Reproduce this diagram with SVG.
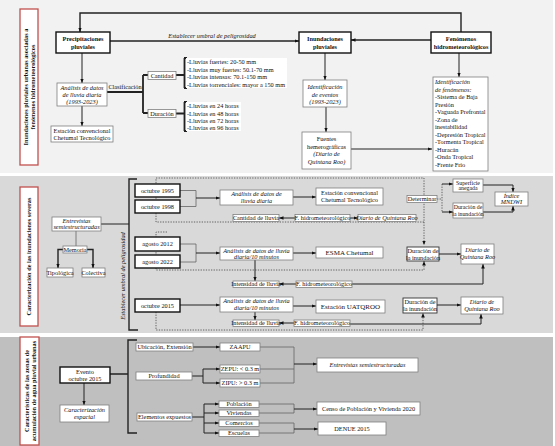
<svg xmlns="http://www.w3.org/2000/svg" width="555" height="446" viewBox="0 0 555 446">
<style>
text{font-family:"Liberation Serif","Times New Roman",serif;font-size:6.3px;fill:#111}
.m{text-anchor:middle}
.i{font-style:italic}
.b{font-weight:bold}
.n{fill:#fff;stroke:#7f7f7f;stroke-width:.8}
.k{fill:#fff;stroke:#111;stroke-width:1.4}
.dk{fill:#fff;stroke:#333;stroke-width:.9}
.w{fill:#fff;stroke:none}
.r{fill:#fff;stroke:#c0504d;stroke-width:1.3}
#connectors path{fill:none;stroke:#222;stroke-width:1}
#connectors path.th{stroke-width:1.8}
#connectors path.t2{stroke-width:1.4}
#connectors path.d{stroke:#444;stroke-width:.8;stroke-dasharray:1.3 1.3}
#connectors path.g{stroke:#666;stroke-width:.8}
</style>
<defs>
<marker id="a" viewBox="0 0 8 8" refX="8" refY="4" markerWidth="4.5" markerHeight="4.5" markerUnits="userSpaceOnUse" orient="auto"><path d="M0,0.8L8,4L0,7.2z" fill="#111"/></marker>
</defs>
<rect width="555" height="446" fill="#fff"/>
<rect x="0" y="0" width="553" height="173" fill="#f2f2f2"/>
<rect x="0" y="176" width="553" height="157" fill="#d9d9d9"/>
<rect x="0" y="337" width="553" height="109" fill="#bfbfbf"/>

<g id="connectors">
<!-- panel 1 -->
<path class="t2" d="M461,32V13H80V32" marker-end="url(#a)"/>
<path class="t2" d="M110,41H299" marker-end="url(#a)"/>
<path class="t2" d="M431,40H351" marker-end="url(#a)"/>
<path d="M82,53V83" marker-end="url(#a)"/>
<path d="M82,106V126" marker-end="url(#a)"/>
<path class="th" d="M107,92H143M143,75V113M143,75H148M143,113H148"/>
<path class="th" d="M176,75H184M184.5,58V88M184,58H187M184,88H187"/>
<path class="th" d="M176,113.5H184M184.5,102V131M184,102H187M184,131H187"/>
<path d="M325,53V80" marker-end="url(#a)"/>
<path d="M326,107V132" marker-end="url(#a)"/>
<path d="M351,149H432" marker-end="url(#a)"/>
<path d="M459,53V77" marker-end="url(#a)"/>
<!-- panel 2 -->
<path class="t2" d="M137,179H129V330H138"/>
<path d="M101,224H129"/>
<path class="g" d="M76,231V246"/>
<path class="t2" d="M63,249.5H58V268" marker-end="url(#a)"/>
<path class="t2" d="M87,249.5H93V268" marker-end="url(#a)"/>
<path class="d" d="M424,222H156V178H424V245" marker-end="url(#a)"/>
<path class="d" d="M167,232H156V270H424V261" marker-end="url(#a)"/>
<path class="d" d="M156,312V330H423V313" marker-end="url(#a)"/>
<path class="d" d="M437,199H442M442,184V212"/>
<path d="M442,184H453" marker-end="url(#a)"/>
<path d="M442,212H453" marker-end="url(#a)"/>
<path d="M483,185H513V192" marker-end="url(#a)"/>
<path d="M483,212H513V206" marker-end="url(#a)"/>
<path class="g" d="M180,190.5H196V206.5H180"/>
<path d="M196,198H220" marker-end="url(#a)"/>
<path d="M293,197H316" marker-end="url(#a)"/>
<path d="M295,218H279" marker-end="url(#a)"/>
<path d="M350,218H358" marker-end="url(#a)"/>
<path class="g" d="M180,244H196V262H180"/>
<path d="M196,253H220" marker-end="url(#a)"/>
<path d="M293,253H316" marker-end="url(#a)"/>
<path d="M255,260V281" marker-end="url(#a)"/>
<path d="M296,284H279" marker-end="url(#a)"/>
<path d="M352,284H483V264" marker-end="url(#a)"/>
<path d="M439,254H461" marker-end="url(#a)"/>
<path d="M180,305H220" marker-end="url(#a)"/>
<path d="M293,306H316" marker-end="url(#a)"/>
<path d="M255,312V320" marker-end="url(#a)"/>
<path d="M294,323H279" marker-end="url(#a)"/>
<path d="M350,324H481V314" marker-end="url(#a)"/>
<path d="M437,305H461" marker-end="url(#a)"/>
<!-- panel 3 -->
<path d="M84,383V405" marker-end="url(#a)"/>
<path class="t2" d="M110,374H128M137,340H128V433H137"/>
<path d="M193,347H220" marker-end="url(#a)"/>
<path d="M192,376H203M203,369V383"/>
<path d="M203,369H220" marker-end="url(#a)"/>
<path d="M203,383H220" marker-end="url(#a)"/>
<path d="M192,417H204M204,404V433"/>
<path d="M204,404H219" marker-end="url(#a)"/>
<path d="M204,413H219" marker-end="url(#a)"/>
<path d="M204,423H219" marker-end="url(#a)"/>
<path d="M204,433H219" marker-end="url(#a)"/>
<path class="g" d="M260,347H294M260,369H294M260,383H294M294,347V383"/>
<path d="M294,364H317" marker-end="url(#a)"/>
<path class="g" d="M259,404H294M259,413H294M294,404V413"/>
<path d="M294,409H317" marker-end="url(#a)"/>
<path class="g" d="M259,423H294M259,433H294M294,423V433"/>
<path d="M294,429H318" marker-end="url(#a)"/>
</g>

<text class="m i" x="212" y="38">Establecer umbral de peligrosidad</text>
<text class="m" x="125" y="89">Clasificación</text>

<g id="label1"><rect class="r" x="20" y="9" width="18" height="156"/>
<text class="m b" transform="translate(29,87) rotate(-90)"><tspan x="0" y="-1">Inundaciones pluviales urbanas asociadas a</tspan><tspan x="0" y="6">fenómenos hidrometeorológicos</tspan></text></g>
<g id="precipitaciones"><rect class="k" x="56" y="32" width="54" height="21"/><text class="m b"><tspan x="83" y="41">Precipitaciones</tspan><tspan x="83" y="48.5">pluviales</tspan></text></g>
<g id="inundaciones"><rect class="k" x="299" y="32" width="52" height="21"/><text class="m b"><tspan x="325" y="41">Inundaciones</tspan><tspan x="325" y="48.5">pluviales</tspan></text></g>
<g id="fenomenos"><rect class="k" x="431" y="32" width="60" height="21"/><text class="m b"><tspan x="461" y="41">Fenómenos</tspan><tspan x="461" y="48.5">hidrometeorológicos</tspan></text></g>
<g id="analisis0"><rect class="n" x="57" y="83" width="50" height="23"/><text class="m i"><tspan x="82" y="89.7">Análisis de datos</tspan><tspan x="82" y="96.7">de lluvia diaria</tspan><tspan x="82" y="103.7">(1993-2023)</tspan></text></g>
<g id="estacion0"><rect class="n" x="51" y="126" width="62" height="16"/><text class="m"><tspan x="82" y="132.5">Estación convencional</tspan><tspan x="82" y="139.5">Chetumal Tecnológico</tspan></text></g>
<g id="cantidad"><rect class="n" x="148" y="71.5" width="28" height="8"/><text class="m" x="162" y="77.6">Cantidad</text></g>
<g id="duracion"><rect class="n" x="148" y="109.5" width="28" height="8"/><text class="m" x="162" y="115.6">Duración</text></g>
<g id="listaCantidad"><rect class="w" x="186" y="58" width="101" height="30"/><text><tspan x="187" y="64.2">-Lluvias fuertes: 20-50 mm</tspan><tspan x="187" y="71.8">-Lluvias muy fuertes: 50.1-70 mm</tspan><tspan x="187" y="79.2">-Lluvias intensas: 70.1-150 mm</tspan><tspan x="187" y="86.8">-Lluvias torrenciales: mayor a 150 mm</tspan></text></g>
<g id="listaDuracion"><rect class="w" x="186" y="102" width="55" height="29"/><text><tspan x="187" y="108.2">-Lluvias en 24 horas</tspan><tspan x="187" y="115.5">-Lluvias en 48 horas</tspan><tspan x="187" y="122.8">-Lluvias en 72 horas</tspan><tspan x="187" y="130">-Lluvias en 96 horas</tspan></text></g>
<g id="identEventos"><rect class="n" x="303" y="80" width="44" height="27"/><text class="m i"><tspan x="325" y="89">Identificación</tspan><tspan x="325" y="96.5">de eventos</tspan><tspan x="325" y="104">(1993-2023)</tspan></text></g>
<g id="fuentes"><rect class="n" x="302" y="132" width="49" height="37"/><text class="m"><tspan x="326.5" y="141">Fuentes</tspan><tspan x="326.5" y="148.7">hemerográficas</tspan><tspan class="i" x="326.5" y="156.3">(Diario de</tspan><tspan class="i" x="326.5" y="164">Quintana Roo)</tspan></text></g>
<g id="identFenomenos"><rect class="n" x="433" y="77" width="55" height="94"/><text><tspan class="i" x="435" y="84">Identificación</tspan><tspan class="i" x="435" y="91.5">de fenómenos:</tspan><tspan x="435" y="99">-Sistema de Baja</tspan><tspan x="435" y="106.5">Presión</tspan><tspan x="435" y="114">-Vaguada Prefrontal</tspan><tspan x="435" y="121.5">-Zona de</tspan><tspan x="435" y="129">inestabilidad</tspan><tspan x="435" y="136.5">-Depresión Tropical</tspan><tspan x="435" y="144">-Tormenta Tropical</tspan><tspan x="435" y="151.5">-Huracán</tspan><tspan x="435" y="159">-Onda Tropical</tspan><tspan x="435" y="166.5">-Frente Frío</tspan></text></g>

<g id="label2"><rect class="r" x="20" y="187" width="18" height="139"/>
<text class="m b" transform="translate(29,256.5) rotate(-90)" x="0" y="2.2">Caracterización de las inundaciones severas</text></g>
<text class="m i" transform="translate(125,276) rotate(-90)" x="0" y="0">Establecer umbral de peligrosidad</text>
<g id="entrevistas1"><rect class="n" x="52" y="217" width="49" height="14"/><text class="m i"><tspan x="76.5" y="222.6">Entrevistas</tspan><tspan x="76.5" y="229">semiestructuradas</tspan></text></g>
<g id="memoria"><rect class="n" x="63" y="246" width="24" height="7"/><text class="m" x="75" y="251.6">Memoria</text></g>
<g id="tipologica"><rect class="n" x="47" y="268" width="26" height="9"/><text class="m" x="60" y="275">Tipológica</text></g>
<g id="colectiva"><rect class="n" x="82" y="268" width="23" height="9"/><text class="m" x="93.5" y="275">Colectiva</text></g>
<g id="oct1995"><rect class="k" x="135" y="184" width="45" height="13"/><text class="m" x="157.5" y="192.6">octubre 1995</text></g>
<g id="oct1998"><rect class="k" x="135" y="200" width="45" height="13"/><text class="m" x="157.5" y="208.6">octubre 1998</text></g>
<g id="ago2012"><rect class="k" x="135" y="237" width="45" height="14"/><text class="m" x="157.5" y="246.2">agosto 2012</text></g>
<g id="ago2022"><rect class="k" x="135" y="255" width="45" height="13"/><text class="m" x="157.5" y="263.6">agosto 2022</text></g>
<g id="oct2015"><rect class="k" x="135" y="299" width="45" height="13"/><text class="m" x="157.5" y="307.6">octubre 2015</text></g>
<g id="analisis1"><rect class="n" x="220" y="190" width="73" height="15"/><text class="m i"><tspan x="256.5" y="196.2">Análisis de datos de</tspan><tspan x="256.5" y="202.8">lluvia diaria</tspan></text></g>
<g id="estacion1"><rect class="n" x="316" y="188" width="67" height="17"/><text class="m"><tspan x="349.5" y="195">Estación convencional</tspan><tspan x="349.5" y="202.3">Chetumal Tecnológico</tspan></text></g>
<g id="cantidadLluvia"><rect class="n" x="233" y="214.5" width="46" height="7"/><text class="m" x="256" y="220.3">Cantidad de lluvia</text></g>
<g id="fhidro1"><rect class="n" x="295" y="214.5" width="55" height="7"/><text class="m" x="322.5" y="220.3">F. hidrometeorológico</text></g>
<g id="diario1"><rect class="n" x="358" y="214.5" width="58" height="7"/><text class="m i" x="387" y="220.3">Diario de Quintana Roo</text></g>
<g id="determinar"><rect class="n" x="407" y="195.5" width="30" height="7"/><text class="m" x="422" y="201.3">Determinar</text></g>
<g id="superficie"><rect class="n" x="453" y="179" width="30" height="13"/><text class="m" style="font-size:5.8px"><tspan x="468" y="184.5">Superficie</tspan><tspan x="468" y="190.3">anegada</tspan></text></g>
<g id="duracionSmall"><rect class="n" x="453" y="203" width="30" height="15"/><text class="m" style="font-size:5.8px"><tspan x="468" y="209.3">Duración de</tspan><tspan x="468" y="215.5">la inundación</tspan></text></g>
<g id="mndwi"><rect class="n" x="495" y="192" width="33" height="14"/><text class="m i"><tspan x="511.5" y="198">Índice</tspan><tspan x="511.5" y="204.3">MNDWI</tspan></text></g>
<g id="analisis2"><rect class="n" x="220" y="247" width="73" height="13"/><text class="m i"><tspan x="256.5" y="252.6">Análisis de datos de lluvia</tspan><tspan x="256.5" y="258.7">diaria/10 minutos</tspan></text></g>
<g id="esma"><rect class="n" x="316" y="247" width="67" height="11"/><text class="m" x="349.5" y="254.8" style="font-size:7px">ESMA Chetumal</text></g>
<g id="intensidad1"><rect class="n" x="233" y="281" width="46" height="6.5"/><text class="m" x="256" y="286.3">Intensidad de lluvia</text></g>
<g id="fhidro2"><rect class="n" x="296" y="281" width="56" height="6.5"/><text class="m" x="324" y="286.3">F. hidrometeorológico</text></g>
<g id="duracion2"><rect class="dk" x="407" y="247" width="32" height="14"/><text class="m"><tspan x="423" y="253">Duración de</tspan><tspan x="423" y="259.5">la inundación</tspan></text></g>
<g id="diario2"><rect class="n" x="461" y="244" width="33" height="20"/><text class="m i"><tspan x="477.5" y="252.2">Diario de</tspan><tspan x="477.5" y="259">Quintana Roo</tspan></text></g>
<g id="analisis3"><rect class="n" x="220" y="297" width="73" height="15"/><text class="m i"><tspan x="256.5" y="303.2">Análisis de datos de lluvia</tspan><tspan x="256.5" y="309.7">diaria/10 minutos</tspan></text></g>
<g id="uatqroo"><rect class="n" x="316" y="300" width="69" height="13"/><text class="m" x="350.5" y="308.8" style="font-size:7px">Estación UATQROO</text></g>
<g id="intensidad2"><rect class="n" x="233" y="320" width="46" height="6.5"/><text class="m" x="256" y="325.3">Intensidad de lluvia</text></g>
<g id="fhidro3"><rect class="n" x="294" y="320" width="56" height="6.5"/><text class="m" x="322" y="325.3">F. hidrometeorológico</text></g>
<g id="duracion3"><rect class="dk" x="403" y="298" width="34" height="15"/><text class="m"><tspan x="420" y="304.3">Duración de</tspan><tspan x="420" y="311">la inundación</tspan></text></g>
<g id="diario3"><rect class="n" x="461" y="297" width="42" height="17"/><text class="m i"><tspan x="482" y="304.2">Diario de</tspan><tspan x="482" y="311">Quintana Roo</tspan></text></g>

<g id="label3"><rect class="r" x="20" y="337" width="19" height="108"/>
<text class="m b" transform="translate(29.5,391) rotate(-90)"><tspan x="0" y="-1">Características de las zonas de</tspan><tspan x="0" y="6">acumulación de agua pluvial urbanas</tspan></text></g>
<g id="evento"><rect class="k" x="60" y="367" width="50" height="16"/><text class="m"><tspan x="85" y="373.8">Evento</tspan><tspan x="85" y="380.5">octubre 2015</tspan></text></g>
<g id="caracterizacion"><rect class="n" x="60" y="405" width="49" height="17"/><text class="m i"><tspan x="84.5" y="412">Caracterización</tspan><tspan x="84.5" y="419">espacial</tspan></text></g>
<g id="ubicacion"><rect class="n" x="136" y="343" width="57" height="8"/><text class="m" x="164.5" y="349.2">Ubicación, Extensión</text></g>
<g id="profundidad"><rect class="n" x="136" y="372" width="56" height="8"/><text class="m" x="164" y="378.2">Profundidad</text></g>
<g id="elementos"><rect class="n" x="137" y="413" width="55" height="8"/><text class="m" x="164.5" y="419.2">Elementos expuestos</text></g>
<g id="zaapu"><rect class="n" x="220" y="343" width="40" height="8"/><text class="m" x="240" y="349.2">ZAAPU</text></g>
<g id="zepu"><rect class="n" x="220" y="365" width="40" height="8"/><text class="m" x="240" y="371.2">ZEPU: &lt; 0.3 m</text></g>
<g id="zipu"><rect class="n" x="220" y="379" width="40" height="8"/><text class="m" x="240" y="385.2">ZIPU: &gt; 0.3 m</text></g>
<g id="poblacion"><rect class="n" x="219" y="401" width="40" height="6.5"/><text class="m" x="239" y="406.4">Población</text></g>
<g id="viviendas"><rect class="n" x="219" y="410" width="40" height="6.5"/><text class="m" x="239" y="415.4">Viviendas</text></g>
<g id="comercios"><rect class="n" x="219" y="420" width="40" height="6.5"/><text class="m" x="239" y="425.4">Comercios</text></g>
<g id="escuelas"><rect class="n" x="219" y="430" width="40" height="6.5"/><text class="m" x="239" y="435.4">Escuelas</text></g>
<g id="entrevistas2"><rect class="n" x="317" y="358" width="101" height="14"/><text class="m i" x="367.5" y="367.2">Entrevistas semiestructuradas</text></g>
<g id="censo"><rect class="n" x="317" y="402" width="103" height="13"/><text class="m" x="368.5" y="410.7">Censo de Población y Vivienda 2020</text></g>
<g id="denue"><rect class="n" x="318" y="422" width="68" height="13"/><text class="m" x="352" y="430.7">DENUE 2015</text></g>
</svg>
